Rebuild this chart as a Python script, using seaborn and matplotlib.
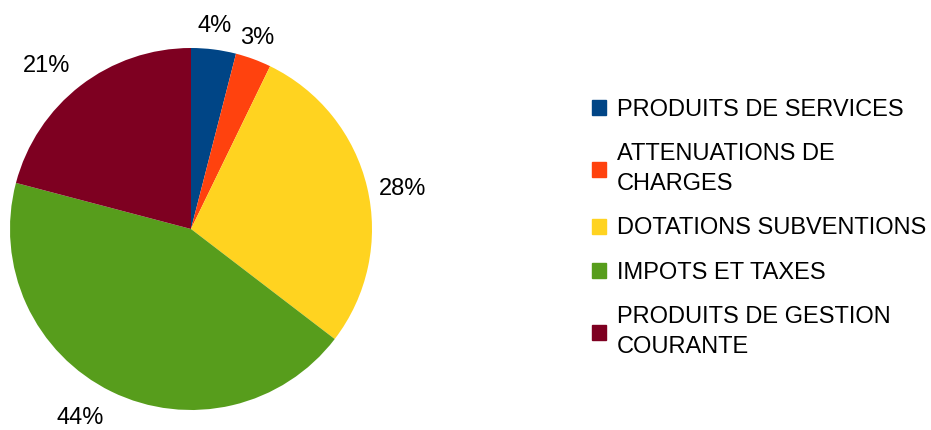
import numpy as np
import matplotlib
matplotlib.use('Agg')
import matplotlib.pyplot as plt
import matplotlib.patches as mpatches
import seaborn as sns

# data
categories = ['PRODUITS DE SERVICES', 'ATTENUATIONS DE\nCHARGES', 'DOTATIONS SUBVENTIONS',
              'IMPOTS ET TAXES', 'PRODUITS DE GESTION\nCOURANTE']
shares = [4.0, 3.2, 28.2, 43.7, 20.9]
colors = ['#004586', '#ff420e', '#ffd320', '#579d1c', '#7e0021']
# placement of the % labels: radius and small angle shift (deg) from wedge middle
label_dist = [1.145, 1.13, 1.19, 1.198, 1.215]
label_shift = [0.7, 1.2, -1.9, -4.6, 3.4]

sns.set_style('white')
plt.rcParams['font.family'] = ['Liberation Sans', 'DejaVu Sans']
plt.rcParams['text.color'] = 'black'

fig = plt.figure(figsize=(9.31, 4.30), dpi=100)
ax = fig.add_axes([10 / 931, 20 / 430, 362 / 931, 362 / 430])

wedges, texts, autotexts = ax.pie(
    shares, colors=colors, startangle=90, counterclock=False,
    autopct='%.0f%%', pctdistance=1.17,
    wedgeprops=dict(linewidth=0), textprops=dict(fontsize=17, color='black'))
for w, t, d, s in zip(wedges, autotexts, label_dist, label_shift):
    a = np.deg2rad((w.theta1 + w.theta2) / 2 + s)
    t.set_position((d * np.cos(a), d * np.sin(a) - 0.015))
ax.set_xlim(-1, 1)
ax.set_ylim(-1, 1)
ax.set_aspect('equal')
ax.axis('off')

handles = [mpatches.Patch(color=c, label=l) for c, l in zip(colors, categories)]
leg = fig.legend(handles=handles, loc='center left', bbox_to_anchor=(0.636, 0.469),
                 frameon=False, fontsize=17, borderpad=0, borderaxespad=0,
                 handlelength=0.6, handleheight=0.6, handletextpad=0.45, labelspacing=0.95)
for t in leg.get_texts():
    t.set_color('black')
    t.set_linespacing(1.45)

fig.savefig('out.png', dpi=100)
